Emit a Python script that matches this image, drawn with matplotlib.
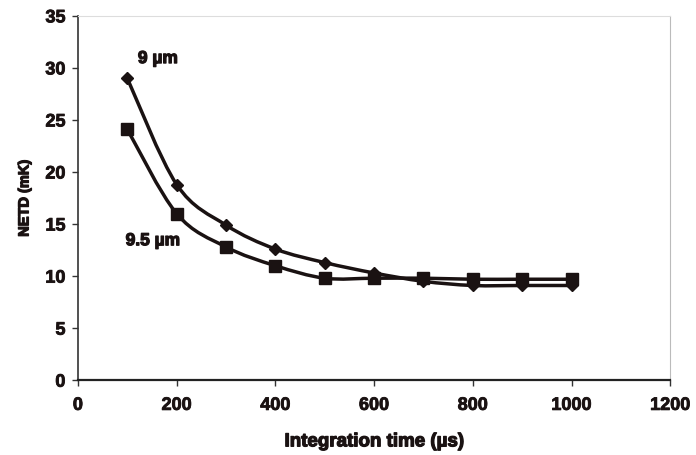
import numpy as np
import matplotlib
matplotlib.use("Agg")
import matplotlib.pyplot as plt
import matplotlib.patheffects as pe
from matplotlib.path import Path
from matplotlib.patches import PathPatch

plt.rcParams['font.family'] = ['Liberation Sans', 'DejaVu Sans']
plt.rcParams['font.weight'] = 'bold'

# data
time_us = [100, 200, 300, 400, 500, 600, 700, 800, 900, 1000]
netd_9um = [29.0, 18.8, 14.9, 12.6, 11.3, 10.3, 9.5, 9.1, 9.1, 9.1]
netd_95um = [24.1, 16.0, 12.8, 11.0, 9.8, 9.8, 9.8, 9.7, 9.7, 9.7]

INK = '#1a1212'
heavy = [pe.withStroke(linewidth=0.9, foreground=INK)]


def smooth_path(x, y):
    # Catmull-Rom style smoothing like Excel's smoothed line
    x = np.asarray(x, float)
    y = np.asarray(y, float)
    verts = [(x[0], y[0])]
    codes = [Path.MOVETO]
    n = len(x)
    for i in range(n - 1):
        p0 = (x[max(i - 1, 0)], y[max(i - 1, 0)])
        p1 = (x[i], y[i])
        p2 = (x[i + 1], y[i + 1])
        p3 = (x[min(i + 2, n - 1)], y[min(i + 2, n - 1)])
        c1 = (p1[0] + (p2[0] - p0[0]) / 6, p1[1] + (p2[1] - p0[1]) / 6)
        c2 = (p2[0] - (p3[0] - p1[0]) / 6, p2[1] - (p3[1] - p1[1]) / 6)
        verts += [c1, c2, p2]
        codes += [Path.CURVE4] * 3
    return Path(verts, codes)


fig = plt.figure(figsize=(6.96, 4.56), dpi=100)
ax = fig.add_axes([0.112, 0.164, 0.851, 0.799])

for ys, mk, ms in [(netd_9um, 'D', 6.5), (netd_95um, 's', 8.5)]:
    ax.add_patch(PathPatch(smooth_path(time_us, ys), fill=False,
                           edgecolor=INK, lw=2.5, zorder=3))
    ax.plot(time_us, ys, linestyle='none', marker=mk, ms=ms,
            color=INK, zorder=4)

ax.text(162, 30.9, '9 µm', ha='center', va='center', fontsize=12.5,
        color=INK, path_effects=heavy)
ax.text(152, 13.4, '9.5 µm', ha='center', va='center', fontsize=12.5,
        color=INK, path_effects=heavy)

ax.set_xlim(0, 1200)
ax.set_ylim(0, 35)
ax.set_xticks(range(0, 1201, 200))
ax.set_yticks(range(0, 36, 5))
ax.tick_params(labelsize=13, length=4, width=1, colors='#333333',
               labelcolor=INK)
ax.tick_params(axis='x', pad=8)
ax.tick_params(axis='y', pad=5)
for lab in ax.get_xticklabels() + ax.get_yticklabels():
    lab.set_fontweight('bold')
    lab.set_path_effects([pe.withStroke(linewidth=0.6, foreground=INK)])

ax.spines['left'].set_color('#333333')
ax.spines['bottom'].set_color('#222222')
ax.spines['bottom'].set_linewidth(1.6)
ax.spines['left'].set_linewidth(1.2)
ax.spines['right'].set_color('#bbbbbb')
ax.spines['top'].set_color('#dddddd')

ax.set_xlabel('Integration time (µs)', fontsize=13.5, fontweight='bold',
              labelpad=14, color=INK, path_effects=heavy)
ax.set_ylabel('NETD (mK)', fontsize=10.5, fontweight='bold', labelpad=10,
              color=INK, path_effects=heavy)

fig.savefig('out.png', dpi=100)
